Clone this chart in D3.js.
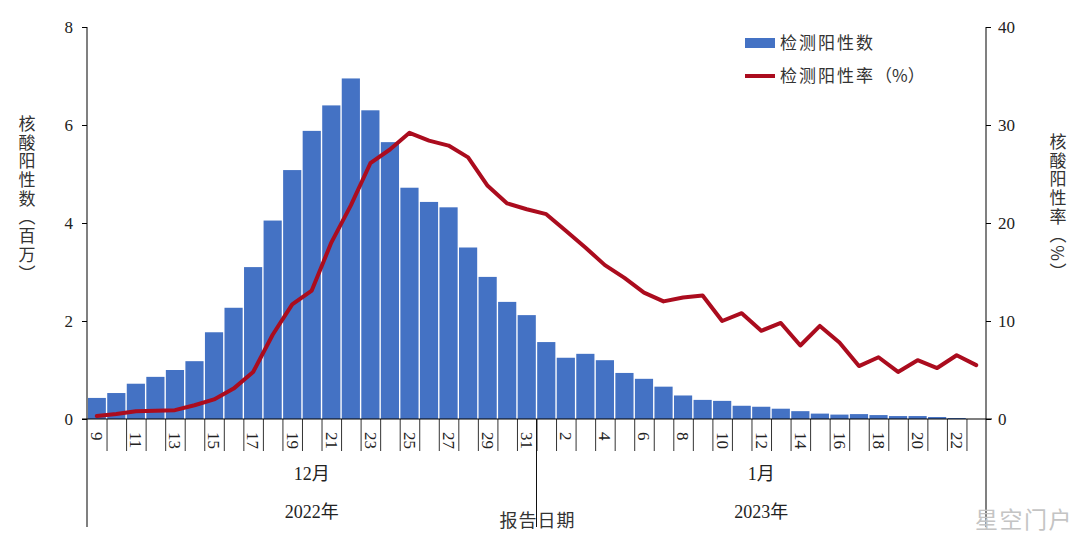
<!DOCTYPE html>
<html>
<head>
<meta charset="utf-8">
<style>
  body { margin: 0; background: #fff; }
  svg { display: block; }
  text { font-family: "Liberation Serif", "Noto Sans CJK SC", serif; fill: #222; }
  .cjk { font-family: "Noto Sans CJK SC", sans-serif; fill: #333; }
</style>
</head>
<body>
<div id="container"></div>
<script src="https://d3js.org/d3.v7.js"></script>
<script>
// Report dates, 9 Dec 2022 to 23 Jan 2023
const days = ["12-9","12-10","12-11","12-12","12-13","12-14","12-15","12-16","12-17","12-18","12-19","12-20",
  "12-21","12-22","12-23","12-24","12-25","12-26","12-27","12-28","12-29","12-30","12-31",
  "1-1","1-2","1-3","1-4","1-5","1-6","1-7","1-8","1-9","1-10","1-11","1-12","1-13","1-14","1-15","1-16",
  "1-17","1-18","1-19","1-20","1-21","1-22","1-23"];

// Positive tests (millions)
const positives = [0.43,0.53,0.72,0.86,1.0,1.18,1.77,2.27,3.1,4.05,5.08,5.88,6.4,6.95,6.3,5.65,4.72,4.43,4.32,3.5,2.9,2.39,2.12,
  1.57,1.25,1.33,1.2,0.94,0.82,0.66,0.48,0.39,0.37,0.27,0.25,0.21,0.16,0.11,0.09,0.1,0.08,0.06,0.06,0.04,0.02,0];

// Positive rate (%)
const rate = [0.3,0.5,0.8,0.85,0.9,1.4,2.0,3.1,4.8,8.6,11.7,13.1,18,21.8,26.1,27.5,29.2,28.4,27.9,26.7,23.8,22,21.4,
  20.9,19.2,17.5,15.7,14.4,12.9,12,12.4,12.6,10,10.8,9,9.8,7.5,9.5,7.8,5.4,6.3,4.8,6,5.2,6.5,5.5];

const leftTicks = [0,2,4,6,8];
const rightTicks = [0,10,20,30,40];
const months = ["12月","1月"];
const years = ["2022年","2023年"];

const width = 1080;
const height = 543;
const marginLeft = 87;
const marginRight = 94;
const marginTop = 27;
const baseline = 419;
const tickBottom = 451;
const axisBottom = 527;

const barColor = "#4472c4";
const lineColor = "#ab0c1e";
const axisGray = "#808080";

const x = d3.scaleBand()
    .domain(days)
    .range([marginLeft, width - marginRight])
    .paddingInner(0.07)
    .paddingOuter(0.035);

// band edges, used for the separators under the axis
const xEdge = d3.scaleLinear()
    .domain([0, days.length])
    .range([marginLeft, width - marginRight]);

const y = d3.scaleLinear().domain([0, 8]).range([baseline, marginTop]);
const yRate = d3.scaleLinear().domain([0, 40]).range([baseline, marginTop]);

const svg = d3.create("svg")
    .attr("width", width)
    .attr("height", height);

// Bars
svg.append("g")
    .attr("fill", barColor)
  .selectAll("rect")
  .data(positives)
  .join("rect")
    .attr("x", (d, i) => x(days[i]))
    .attr("y", d => y(d))
    .attr("width", x.bandwidth())
    .attr("height", d => baseline - y(d));

// Left axis
svg.append("g")
    .attr("transform", `translate(${marginLeft},0)`)
    .call(d3.axisLeft(y).tickValues(leftTicks).tickSize(5).tickSizeOuter(0).tickPadding(9))
    .call(g => g.select(".domain").attr("stroke", axisGray).attr("stroke-width", 2)
        .attr("d", `M0,${marginTop}V${axisBottom}`))
    .call(g => g.selectAll(".tick text").attr("font-size", 17).attr("font-family", "Liberation Serif"));

// Right axis
svg.append("g")
    .attr("transform", `translate(${width - marginRight},0)`)
    .call(d3.axisRight(yRate).tickValues(rightTicks).tickSize(5).tickSizeOuter(0).tickPadding(7))
    .call(g => g.select(".domain").attr("stroke", axisGray).attr("stroke-width", 2)
        .attr("d", `M0,${marginTop}V${axisBottom}`))
    .call(g => g.selectAll(".tick text").attr("font-size", 17).attr("font-family", "Liberation Serif"));

// Band separators under the baseline
svg.append("g")
    .attr("transform", `translate(0,${baseline})`)
    .call(d3.axisBottom(xEdge).tickValues(d3.range(1, days.length)).tickSize(tickBottom - baseline).tickFormat(""))
    .call(g => g.select(".domain").remove())
    .call(g => g.selectAll(".tick line").attr("stroke", "#333"));

// Baseline
svg.append("line")
    .attr("x1", marginLeft - 5).attr("x2", width - marginRight + 6)
    .attr("y1", baseline).attr("y2", baseline)
    .attr("stroke", "#000").attr("stroke-width", 1.2);

// Month divider
svg.append("line")
    .attr("x1", xEdge(23)).attr("x2", xEdge(23))
    .attr("y1", baseline).attr("y2", axisBottom)
    .attr("stroke", "#111");

// Day labels, every second day, rotated
svg.append("g")
    .attr("transform", `translate(0,${baseline})`)
    .call(d3.axisBottom(x).tickSize(0).tickFormat((d, i) => i % 2 ? "" : d.split("-")[1]))
    .call(g => g.select(".domain").remove())
    .call(g => g.selectAll(".tick text")
        .attr("font-size", 17)
        .attr("font-family", "Liberation Serif")
        .attr("text-anchor", "start")
        .attr("dy", "0.33em")
        .attr("transform", "rotate(90)")
        .attr("x", 13)
        .attr("y", 0));

// Rate line
const line = d3.line()
    .x((d, i) => x(days[i]) + x.bandwidth() / 2)
    .y(d => yRate(d));

svg.append("path")
    .attr("fill", "none")
    .attr("stroke", lineColor)
    .attr("stroke-width", 4)
    .attr("stroke-linejoin", "round")
    .attr("stroke-linecap", "round")
    .attr("d", line(rate));

// Month and year labels
const groupCentres = [xEdge(11.5), xEdge(34.5)];
svg.append("g").selectAll("text").data(months).join("text")
    .attr("x", (d, i) => groupCentres[i])
    .attr("y", 480)
    .attr("text-anchor", "middle")
    .attr("font-size", 18)
    .text(d => d);
svg.append("g").selectAll("text").data(years).join("text")
    .attr("x", (d, i) => groupCentres[i])
    .attr("y", 518)
    .attr("text-anchor", "middle")
    .attr("font-size", 18)
    .text(d => d);

svg.append("text")
    .attr("class", "cjk")
    .attr("x", 537.5)
    .attr("y", 527)
    .attr("text-anchor", "middle")
    .attr("font-size", 18)
    .attr("letter-spacing", 1)
    .text("报告日期");

// Legend
svg.append("rect")
    .attr("x", 745).attr("y", 38).attr("width", 30).attr("height", 10)
    .attr("fill", barColor);
svg.append("line")
    .attr("x1", 745).attr("x2", 775).attr("y1", 76).attr("y2", 76)
    .attr("stroke", lineColor).attr("stroke-width", 4);
svg.append("text")
    .attr("class", "cjk")
    .attr("x", 780).attr("y", 49)
    .attr("font-size", 17).attr("letter-spacing", 2)
    .text("检测阳性数");
const rateLegend = svg.append("text")
    .attr("class", "cjk")
    .attr("x", 780).attr("y", 82)
    .attr("font-size", 17).attr("letter-spacing", 2)
    .text("检测阳性率");
rateLegend.append("tspan")
    .attr("letter-spacing", 0)
    .text("（%）");

// Axis titles
svg.append("text")
    .attr("class", "cjk")
    .attr("x", 27).attr("y", 115)
    .attr("font-size", 17).attr("letter-spacing", 1.7)
    .style("writing-mode", "vertical-rl")
    .text("核酸阳性数（百万）");
svg.append("text")
    .attr("class", "cjk")
    .attr("x", 1058).attr("y", 133)
    .attr("font-size", 17).attr("letter-spacing", 1.7)
    .style("writing-mode", "vertical-rl")
    .text("核酸阳性率（%）");

// Watermark
svg.append("text")
    .attr("class", "cjk")
    .attr("x", 975).attr("y", 528)
    .attr("font-size", 23)
    .attr("letter-spacing", 1.5)
    .style("fill", "#c4c4c4")
    .text("星空门户");

container.append(svg.node());
</script>
</body>
</html>
